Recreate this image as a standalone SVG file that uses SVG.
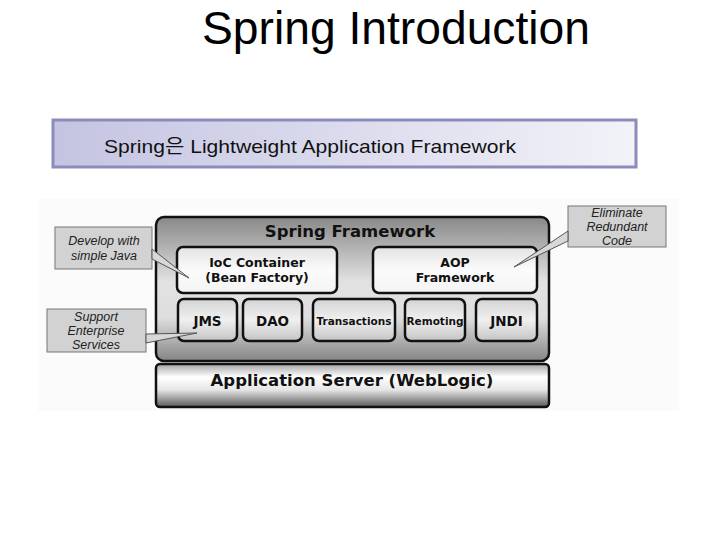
<svg xmlns="http://www.w3.org/2000/svg" width="720" height="540" viewBox="0 0 720 540">
<defs>
<linearGradient id="gBanner" x1="0" y1="0" x2="1" y2="0">
<stop offset="0" stop-color="#c4c4e2"/>
<stop offset="1" stop-color="#f2f2f8"/>
</linearGradient>
<linearGradient id="gFw" x1="0" y1="0" x2="0" y2="1">
<stop offset="0" stop-color="#888888"/>
<stop offset="0.45" stop-color="#e2e2e2"/>
<stop offset="0.7" stop-color="#dedede"/>
<stop offset="1" stop-color="#858585"/>
</linearGradient>
<linearGradient id="gInner" x1="0" y1="0" x2="0" y2="1">
<stop offset="0" stop-color="#e2e2e2"/>
<stop offset="0.5" stop-color="#fbfbfb"/>
<stop offset="1" stop-color="#f4f4f4"/>
</linearGradient>
<linearGradient id="gSmall" x1="0" y1="0" x2="0" y2="1">
<stop offset="0" stop-color="#d4d4d4"/>
<stop offset="0.5" stop-color="#f0f0f0"/>
<stop offset="1" stop-color="#c4c4c4"/>
</linearGradient>
<linearGradient id="gApp" x1="0" y1="0" x2="0" y2="1">
<stop offset="0" stop-color="#a4a4a4"/>
<stop offset="0.3" stop-color="#ffffff"/>
<stop offset="0.6" stop-color="#e6e6e6"/>
<stop offset="1" stop-color="#5a5a5a"/>
</linearGradient>
<style>
.title{font-family:"Liberation Sans",Arial,sans-serif;font-size:46px;fill:#000}
.banner{font-family:"Liberation Sans","Noto Sans CJK KR",sans-serif;font-size:19px;fill:#111}
.box{stroke:#111;stroke-width:2.5}
.hdr{font-family:"DejaVu Sans",Verdana,sans-serif;font-weight:bold;fill:#111;text-anchor:middle}
.call{fill:#d2d2d2;stroke:#777;stroke-width:1}
.ctext{font-family:"Liberation Sans",Arial,sans-serif;font-style:italic;font-size:12.5px;fill:#222;text-anchor:middle}
.ptr{fill:#d8d8d8;stroke:#555;stroke-width:1}
</style>
</defs>
<rect width="720" height="540" fill="#ffffff"/>
<text class="title" x="202" y="44" textLength="388" lengthAdjust="spacingAndGlyphs">Spring Introduction</text>
<g id="banner">
<rect x="53" y="120" width="583" height="47" fill="url(#gBanner)" stroke="#8c8cbc" stroke-width="3"/>
<text class="banner" x="104" y="153" textLength="412" lengthAdjust="spacingAndGlyphs">Spring은 Lightweight Application Framework</text>
</g>
<rect x="38" y="199" width="641" height="212" fill="#fbfbfb"/>
<g id="spring-framework">
<rect class="box" x="156" y="217" width="393" height="144" rx="8" fill="url(#gFw)"/>
<text class="hdr" x="350" y="237" font-size="16.5">Spring Framework</text>
</g>
<g id="ioc">
<rect class="box" x="177" y="247" width="160" height="46" rx="6" fill="url(#gInner)" stroke-width="1.8"/>
<text class="hdr" x="257" y="267" font-size="12.5">IoC Container</text>
<text class="hdr" x="257" y="282" font-size="12.5">(Bean Factory)</text>
</g>
<g id="aop">
<rect class="box" x="373" y="247" width="164" height="46" rx="6" fill="url(#gInner)" stroke-width="1.8"/>
<text class="hdr" x="455" y="267" font-size="12.5">AOP</text>
<text class="hdr" x="455" y="282" font-size="12.5">Framework</text>
</g>
<g id="jms">
<rect class="box" x="178" y="299" width="59" height="42" rx="6" fill="url(#gSmall)" stroke-width="1.8"/>
<text class="hdr" x="207.5" y="326" font-size="13.5">JMS</text>
</g>
<g id="dao">
<rect class="box" x="243" y="299" width="59" height="42" rx="6" fill="url(#gSmall)" stroke-width="1.8"/>
<text class="hdr" x="272.5" y="326" font-size="13.5">DAO</text>
</g>
<g id="transactions">
<rect class="box" x="313" y="299" width="82" height="42" rx="6" fill="url(#gSmall)" stroke-width="1.8"/>
<text class="hdr" x="354" y="325" font-size="10.5">Transactions</text>
</g>
<g id="remoting">
<rect class="box" x="405" y="299" width="60" height="42" rx="6" fill="url(#gSmall)" stroke-width="1.8"/>
<text class="hdr" x="435" y="325" font-size="10.5">Remoting</text>
</g>
<g id="jndi">
<rect class="box" x="476" y="299" width="61" height="42" rx="6" fill="url(#gSmall)" stroke-width="1.8"/>
<text class="hdr" x="506.5" y="326" font-size="13.5">JNDI</text>
</g>
<g id="app-server">
<rect class="box" x="156" y="364" width="393" height="43" rx="4" fill="url(#gApp)"/>
<text class="hdr" x="352" y="386" font-size="16.5">Application Server (WebLogic)</text>
</g>
<g id="callout-develop">
<rect class="call" x="55" y="227" width="97" height="42"/>
<text class="ctext" x="104" y="245">Develop with</text>
<text class="ctext" x="104" y="260">simple Java</text>
</g>
<g id="callout-support">
<rect class="call" x="47" y="309" width="99" height="43"/>
<text class="ctext" x="96" y="321">Support</text>
<text class="ctext" x="96" y="335">Enterprise</text>
<text class="ctext" x="96" y="349">Services</text>
</g>
<g id="callout-eliminate">
<rect class="call" x="568" y="206" width="98" height="41"/>
<text class="ctext" x="617" y="217">Eliminate</text>
<text class="ctext" x="617" y="231">Redundant</text>
<text class="ctext" x="617" y="245">Code</text>
</g>
<g id="connectors">
<polygon class="ptr" points="152,249 189,278 152,259"/>
<polygon class="ptr" points="146,334 197,333 146,343"/>
<polygon class="ptr" points="568,231 514,267 568,241"/>
</g>
</svg>
